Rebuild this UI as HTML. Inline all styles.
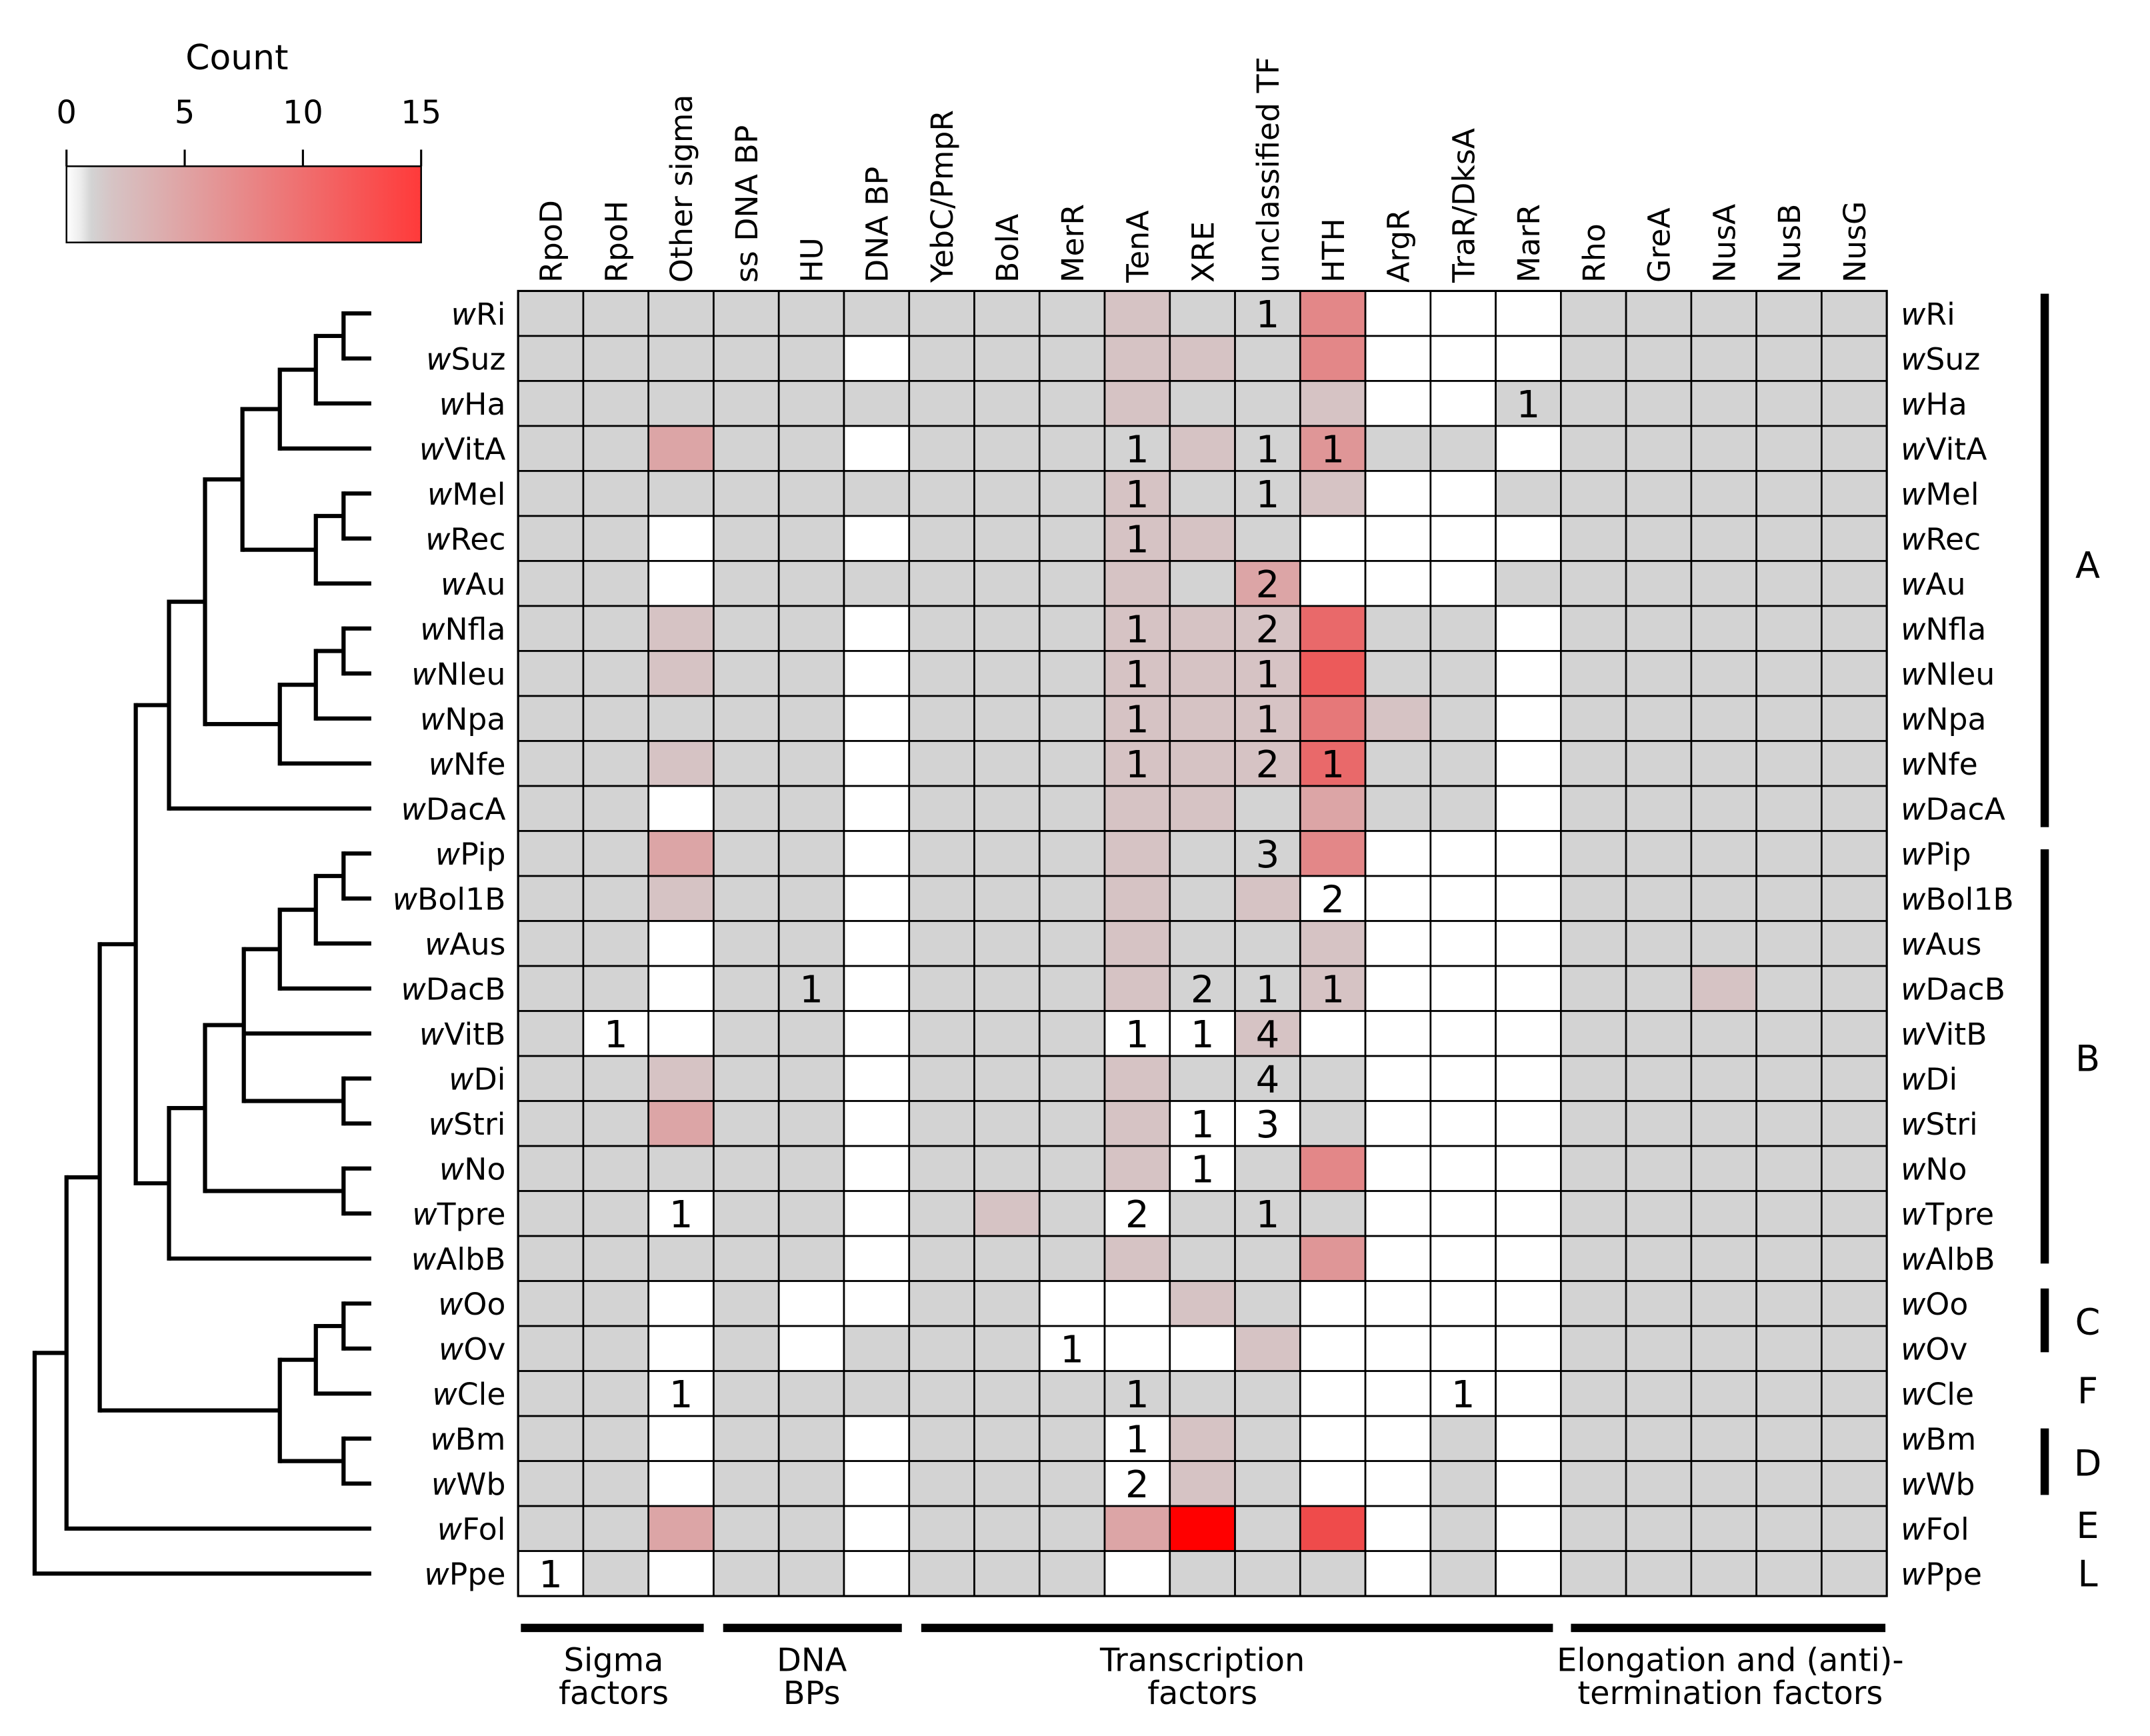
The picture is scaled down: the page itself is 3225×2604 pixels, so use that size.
<!DOCTYPE html>
<html><head><meta charset="utf-8"><style>
html,body{margin:0;padding:0;background:#fff}
svg{display:block}
text{font-family:"DejaVu Sans","Liberation Sans",sans-serif;fill:#000}
</style></head><body>
<svg id="chart" width="3225" height="2604" viewBox="0 0 1552 1253" preserveAspectRatio="none" xmlns="http://www.w3.org/2000/svg">
<defs>
<linearGradient id="lg" x1="0" x2="1" y1="0" y2="0">
<stop offset="0" stop-color="#ffffff"/>
<stop offset="0.04" stop-color="#ececec"/>
<stop offset="0.07" stop-color="#d3d3d3"/>
<stop offset="0.13" stop-color="#d6c3c4"/>
<stop offset="1" stop-color="#ff3a3a"/>
</linearGradient>
</defs>
<g id="legend">
<text x="171" y="50" font-size="25" text-anchor="middle">Count</text>
<rect x="48" y="120" width="256" height="55" fill="url(#lg)" stroke="#000" stroke-width="1.2"/>
</g>
<g id="cells"></g>
<g id="tree" stroke="#000" stroke-width="3" fill="none"></g>
<g id="labels"></g>
<g id="groups">
<rect x="1473" y="212" width="6" height="385" fill="#000"/>
<rect x="1473" y="613" width="6" height="299" fill="#000"/>
<rect x="1473" y="930" width="6" height="46" fill="#000"/>
<rect x="1473" y="1031" width="6" height="48" fill="#000"/>
<text x="1507" y="417" font-size="26" text-anchor="middle">A</text>
<text x="1507" y="773" font-size="26" text-anchor="middle">B</text>
<text x="1507" y="963" font-size="26" text-anchor="middle">C</text>
<text x="1507" y="1013" font-size="26" text-anchor="middle">F</text>
<text x="1507" y="1065" font-size="26" text-anchor="middle">D</text>
<text x="1507" y="1110" font-size="26" text-anchor="middle">E</text>
<text x="1507" y="1145" font-size="26" text-anchor="middle">L</text>
<rect x="376" y="1172" width="132" height="6" fill="#000"/>
<rect x="522" y="1172" width="129" height="6" fill="#000"/>
<rect x="665" y="1172" width="456" height="6" fill="#000"/>
<rect x="1134" y="1172" width="227" height="6" fill="#000"/>
<text font-size="23" text-anchor="middle"><tspan x="443" y="1206">Sigma</tspan><tspan x="443" y="1230">factors</tspan></text>
<text font-size="23" text-anchor="middle"><tspan x="586" y="1206">DNA</tspan><tspan x="586" y="1230">BPs</tspan></text>
<text font-size="23" text-anchor="middle"><tspan x="868" y="1206">Transcription</tspan><tspan x="868" y="1230">factors</tspan></text>
<text font-size="23" text-anchor="middle"><tspan x="1249" y="1206">Elongation and (anti)-</tspan><tspan x="1249" y="1230">termination factors</tspan></text>
</g>
</svg>
<script>
const columns = ["RpoD","RpoH","Other sigma","ss DNA BP","HU","DNA BP","YebC/PmpR","BolA","MerR","TenA","XRE","unclassified TF","HTH","ArgR","TraR/DksA","MarR","Rho","GreA","NusA","NusB","NusG"];
const strains = ["Ri","Suz","Ha","VitA","Mel","Rec","Au","Nfla","Nleu","Npa","Nfe","DacA","Pip","Bol1B","Aus","DacB","VitB","Di","Stri","No","Tpre","AlbB","Oo","Ov","Cle","Bm","Wb","Fol","Ppe"];
// colour values: 0 = white, 1 = grey, >=2 pink→red scale (max 15)
const colorValues = [
[1,1,1,1,1,1,1,1,1,2,1,1,6,0,0,0,1,1,1,1,1],
[1,1,1,1,1,0,1,1,1,2,2,1,6,0,0,0,1,1,1,1,1],
[1,1,1,1,1,1,1,1,1,2,1,1,2,0,0,1,1,1,1,1,1],
[1,1,4,1,1,0,1,1,1,1,2,1,5,1,1,0,1,1,1,1,1],
[1,1,1,1,1,1,1,1,1,2,1,1,2,0,0,1,1,1,1,1,1],
[1,1,0,1,1,0,1,1,1,2,2,1,0,0,0,0,1,1,1,1,1],
[1,1,0,1,1,1,1,1,1,2,1,4,0,0,0,1,1,1,1,1,1],
[1,1,2,1,1,0,1,1,1,2,2,2,8,1,1,0,1,1,1,1,1],
[1,1,2,1,1,0,1,1,1,2,2,2,9,1,1,0,1,1,1,1,1],
[1,1,1,1,1,0,1,1,1,2,2,2,7,2,1,0,1,1,1,1,1],
[1,1,2,1,1,0,1,1,1,2,2,2,8,1,1,0,1,1,1,1,1],
[1,1,0,1,1,0,1,1,1,2,2,1,4,1,1,0,1,1,1,1,1],
[1,1,4,1,1,0,1,1,1,2,1,1,6,0,0,0,1,1,1,1,1],
[1,1,2,1,1,0,1,1,1,2,1,2,0,0,0,0,1,1,1,1,1],
[1,1,0,1,1,0,1,1,1,2,1,1,2,0,0,0,1,1,1,1,1],
[1,1,0,1,1,0,1,1,1,2,1,1,2,0,0,0,1,1,2,1,1],
[1,0,0,1,1,0,1,1,1,0,0,2,0,0,0,0,1,1,1,1,1],
[1,1,2,1,1,0,1,1,1,2,1,1,1,0,0,0,1,1,1,1,1],
[1,1,4,1,1,0,1,1,1,2,0,0,1,0,0,0,1,1,1,1,1],
[1,1,1,1,1,0,1,1,1,2,0,1,6,0,0,0,1,1,1,1,1],
[1,1,0,1,1,0,1,2,1,0,1,1,1,0,0,0,1,1,1,1,1],
[1,1,1,1,1,0,1,1,1,2,1,1,5,0,0,0,1,1,1,1,1],
[1,1,0,1,0,0,1,1,0,0,2,1,0,0,0,0,1,1,1,1,1],
[1,1,0,1,0,1,1,1,0,0,0,2,0,0,0,0,1,1,1,1,1],
[1,1,0,1,1,1,1,1,1,1,1,1,0,0,0,0,1,1,1,1,1],
[1,1,0,1,1,0,1,1,1,0,2,1,0,0,1,0,1,1,1,1,1],
[1,1,0,1,1,0,1,1,1,0,2,1,0,0,1,0,1,1,1,1,1],
[1,1,4,1,1,0,1,1,1,4,15,1,10,0,1,0,1,1,1,1,1],
[0,1,0,1,1,0,1,1,1,0,1,1,1,0,1,0,1,1,1,1,1]
];
// printed counts: [row, col, value]
const cellRows = [0,2,3,3,3,4,4,5,6,7,7,8,8,9,9,10,10,10,12,13,15,15,15,15,16,16,16,16,17,18,18,19,20,20,20,23,24,24,24,25,26,28];
const cellCols = [11,15,9,11,12,9,11,9,11,9,11,9,11,9,11,9,11,12,11,12,4,10,11,12,1,9,10,11,11,10,11,10,2,9,11,8,2,9,14,9,9,0];
const cellCounts = [1,1,1,1,1,1,1,1,2,1,2,1,1,1,1,1,2,1,3,2,1,2,1,1,1,1,1,4,4,1,3,1,1,2,1,1,1,1,1,1,2,1];
const legendTicks = [0,5,10,15];

const NS="http://www.w3.org/2000/svg";
const svg=document.getElementById('chart');
const X0=374,X1=1362,Y0=210,Y1=1152;
const cw=(X1-X0)/columns.length, rh=(Y1-Y0)/strains.length;
const xAt=c=>X0+c*cw, yAt=r=>Y0+r*rh;
function mk(tag,attrs,parent){const e=document.createElementNS(NS,tag);for(const k in attrs)e.setAttribute(k,attrs[k]);parent.appendChild(e);return e;}
function color(v){
  if(v<=0)return '#ffffff';
  if(v===1)return '#d3d3d3';
  const t=Math.min(1,(v-2)/13);
  const r=Math.round(214+41*t),g=Math.round(195*(1-t)),b=Math.round(196*(1-t));
  return `rgb(${r},${g},${b})`;
}
const cells=document.getElementById('cells');
colorValues.forEach((row,r)=>row.forEach((v,c)=>{
  const e=mk('rect',{x:xAt(c),y:yAt(r),width:cw,height:rh,fill:color(v),stroke:'#000','stroke-width':1.3},cells);
  
  
}));
mk('rect',{x:X0,y:Y0,width:X1-X0,height:Y1-Y0,fill:'none',stroke:'#000','stroke-width':1.5},cells);
cellCounts.forEach((n,i)=>{
  const t=mk('text',{x:xAt(cellCols[i])+cw/2,y:yAt(cellRows[i])+rh/2+10,'font-size':27,'text-anchor':'middle'},cells);
  t.textContent=n;
  
  
});
const labels=document.getElementById('labels');
columns.forEach((c,i)=>{
  const cx=xAt(i)+cw/2+8;
  const t=mk('text',{x:cx,y:204,'font-size':22,transform:`rotate(-90 ${cx} 204)`},labels);
  t.textContent=c;
  
  
});
strains.forEach((s,r)=>{
  const cy=yAt(r)+rh/2+8;
  const l=mk('text',{x:365,y:cy,'font-size':22,'text-anchor':'end'},labels);
  l.innerHTML='<tspan font-style="italic">w</tspan>'+s;
  
  
  const rr=mk('text',{x:1372,y:cy,'font-size':22},labels);
  rr.innerHTML='<tspan font-style="italic">w</tspan>'+s;
  
  
});
const lg=document.getElementById('legend');
legendTicks.forEach(v=>{
  const x=48+v/15*256;
  const t=mk('text',{x:x,y:89,'font-size':23,'text-anchor':'middle'},lg);
  t.textContent=v;
  
  
  const tk=mk('line',{x1:x,x2:x,y1:108,y2:120,stroke:'#000','stroke-width':1.5},lg);
  
  
});
// dendrogram: node = [x, children]; leaves are indices
const tree=[25,[[48,[[72,[[98,[[122,[[148,[[175,[[202,[[228,[[248,[0,1]],2]],3]],[228,[[248,[4,5]],6]]]],[202,[[228,[[248,[7,8]],9]],10]]]],11]],[122,[[148,[[176,[[202,[[228,[[248,[12,13]],14]],15]],16,[248,[17,18]]]],[248,[19,20]]]],21]]]],[202,[[228,[[248,[22,23]],24]],[248,[25,26]]]]]],27]],28]];
const tg=document.getElementById('tree');
function draw(node,parentX){
  let y,x;
  if(typeof node==='number'){y=yAt(node)+rh/2;x=268;}
  else{
    x=node[0];
    const ys=node[1].map(ch=>draw(ch,x));
    y=(Math.min(...ys)+Math.max(...ys))/2;
    const v=mk('line',{x1:x,x2:x,y1:Math.min(...ys)-1.5,y2:Math.max(...ys)+1.5},tg);
    
    
  }
  if(parentX!==undefined){
    const h=mk('line',{x1:parentX,x2:x,y1:y,y2:y},tg);
    
    
  }
  return y;
}
const rootY=draw(tree);
const rl=mk('line',{x1:25,x2:25,y1:rootY,y2:rootY},tg);


</script>
</body></html>
